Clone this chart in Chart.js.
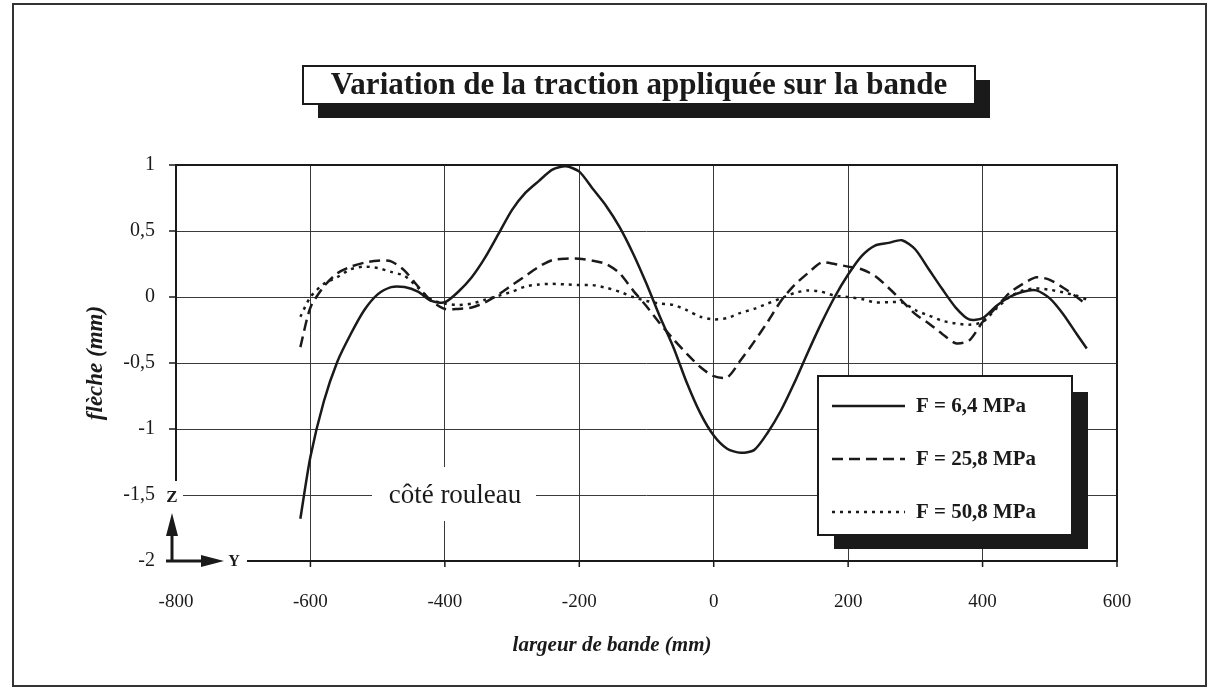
<!DOCTYPE html>
<html lang="fr">
<head>
<meta charset="utf-8">
<title>Variation de la traction appliquée sur la bande</title>
<script src="https://cdn.jsdelivr.net/npm/chart.js@4.4.1/dist/chart.umd.min.js"></script>
<style>
    html, body { margin: 0; padding: 0; background: #fff; }
    #wrap { width: 1209px; height: 689px; }
</style>
</head>
<body>
<div id="wrap"><canvas id="flecheChart" width="1209" height="689"></canvas></div>
<script>
/* ---------- données (mm) ---------- */
const positions = [
    -615, -600, -580, -560, -540, -520, -500, -480, -460, -440, -420, -400,
    -380, -360, -340, -320, -300, -280, -260, -240, -220, -200, -180, -160,
    -140, -120, -100, -80, -60, -40, -20, 0, 20, 40, 60, 80, 100, 120, 140,
    160, 180, 200, 220, 240, 260, 280, 300, 320, 340, 360, 380, 400, 420,
    440, 460, 480, 500, 520, 540, 555
];

const fleche64 = [
    -1.68, -1.21, -0.79, -0.49, -0.28, -0.10, 0.02, 0.075, 0.075, 0.04, -0.03, -0.04,
    0.04, 0.15, 0.30, 0.48, 0.66, 0.79, 0.88, 0.965, 0.99, 0.95, 0.82, 0.69,
    0.53, 0.33, 0.10, -0.15, -0.38, -0.65, -0.88, -1.05, -1.15, -1.18, -1.16, -1.03, -0.86, -0.65, -0.42,
    -0.20, 0.0, 0.17, 0.31, 0.39, 0.41, 0.43, 0.36, 0.21, 0.06, -0.08, -0.17, -0.16, -0.07,
    0.0, 0.04, 0.05, -0.01, -0.13, -0.28, -0.39
];

const fleche258 = [
    -0.38, -0.08, 0.08, 0.18, 0.23, 0.26, 0.275, 0.27, 0.20, 0.08, -0.03, -0.09,
    -0.09, -0.08, -0.04, 0.02, 0.09, 0.16, 0.23, 0.28, 0.29, 0.29, 0.275, 0.25,
    0.18, 0.05, -0.07, -0.20, -0.32, -0.43, -0.53, -0.60, -0.61, -0.48, -0.34, -0.19, -0.03, 0.09, 0.18,
    0.26, 0.25, 0.23, 0.21, 0.16, 0.07, -0.03, -0.13, -0.20, -0.28, -0.35, -0.33, -0.19, -0.08,
    0.03, 0.10, 0.15, 0.13, 0.07, 0.0, -0.06
];

const fleche508 = [
    -0.15, 0.0, 0.10, 0.15, 0.21, 0.23, 0.22, 0.19, 0.16, 0.07, -0.02, -0.05,
    -0.06, -0.05, -0.02, 0.01, 0.04, 0.08, 0.095, 0.10, 0.095, 0.09, 0.09, 0.07,
    0.04, 0.0, -0.03, -0.05, -0.06, -0.10, -0.15, -0.17, -0.16, -0.12, -0.09, -0.05, -0.01, 0.03, 0.05,
    0.04, 0.01, 0.0, -0.015, -0.04, -0.04, -0.04, -0.10, -0.14, -0.18, -0.20, -0.21, -0.19, -0.09,
    0.0, 0.05, 0.065, 0.055, 0.035, 0.01, -0.02
];

const seriesLabels = ["F = 6,4 MPa", "F = 25,8 MPa", "F = 50,8 MPa"];
const xTicks = [-800, -600, -400, -200, 0, 200, 400, 600];
const yTicks = [1, 0.5, 0, -0.5, -1, -1.5, -2];

const chartTitle = "Variation de la traction appliquée sur la bande";
const xTitle = "largeur de bande (mm)";
const yTitle = "flèche (mm)";
const sideNote = "côté rouleau";

/* ---------- styles ---------- */
const INK = "#1a1a1a";
const GRID = "#3a3a3a";
const SERIF = "'Liberation Serif', 'DejaVu Serif', serif";
const dashes = [[], [11, 6], [3, 5]];

function points(values) {
    return positions.map((x, i) => ({ x, y: values[i] }));
}

function formatComma(v) {
    return String(v).replace(".", ",");
}

/* cadres, annotations, légende et titre dessinés sur le canvas */
const decorPlugin = {
    id: "decor",
    afterDraw(chart) {
        const ctx = chart.ctx;
        const area = chart.chartArea;
        const xs = chart.scales.x;
        const ys = chart.scales.y;
        const y15 = ys.getPixelForValue(-1.5);
        const y2 = ys.getPixelForValue(-2);

        ctx.save();
        ctx.strokeStyle = INK;
        ctx.fillStyle = INK;

        // cadre de la zone de tracé
        ctx.lineWidth = 2;
        ctx.beginPath();
        ctx.moveTo(area.left, y15 - 14);
        ctx.lineTo(area.left, area.top);
        ctx.lineTo(area.right, area.top);
        ctx.lineTo(area.right, area.bottom);
        ctx.lineTo(247, area.bottom);
        ctx.stroke();

        // graduations
        ctx.lineWidth = 1.5;
        ctx.beginPath();
        yTicks.forEach(v => {
            if (v === -1.5 || v === -2) return;
            const py = ys.getPixelForValue(v);
            ctx.moveTo(area.left - 7, py);
            ctx.lineTo(area.left, py);
        });
        xTicks.forEach(v => {
            if (v === -800) return;
            const px = xs.getPixelForValue(v);
            ctx.moveTo(px, area.bottom);
            ctx.lineTo(px, area.bottom + 6);
        });
        ctx.stroke();

        // repère Z / Y
        ctx.fillStyle = "#fff";
        ctx.fillRect(area.left - 10, y15 - 10, 17, 20);
        ctx.fillStyle = INK;
        ctx.font = `bold 17px ${SERIF}`;
        ctx.textAlign = "center";
        ctx.textBaseline = "middle";
        ctx.fillText("Z", area.left - 4, y15 + 3);
        ctx.font = `bold 16px ${SERIF}`;
        ctx.fillText("Y", 234, y2 + 1);

        const ax = area.left - 4;
        ctx.lineWidth = 3;
        ctx.beginPath();
        ctx.moveTo(ax, y2 + 1.5);
        ctx.lineTo(ax, y2 - 30);
        ctx.moveTo(ax - 6, y2);
        ctx.lineTo(area.left + 30, y2);
        ctx.stroke();
        ctx.beginPath();
        ctx.moveTo(ax, y2 - 48);
        ctx.lineTo(ax - 6, y2 - 25);
        ctx.lineTo(ax + 6, y2 - 25);
        ctx.closePath();
        ctx.moveTo(area.left + 48, y2);
        ctx.lineTo(area.left + 25, y2 - 6);
        ctx.lineTo(area.left + 25, y2 + 6);
        ctx.closePath();
        ctx.fill();

        // note "côté rouleau"
        ctx.fillStyle = "#fff";
        ctx.fillRect(372, y15 - 28, 164, 54);
        ctx.fillStyle = INK;
        ctx.font = `27px ${SERIF}`;
        ctx.fillText(sideNote, 455, y15 + 1, 154);

        // titres des axes
        ctx.font = `bold italic 21px ${SERIF}`;
        ctx.fillText(xTitle, 612, 646);
        ctx.save();
        ctx.translate(96, (area.top + area.bottom) / 2);
        ctx.rotate(-Math.PI / 2);
        ctx.font = `bold italic 23px ${SERIF}`;
        ctx.fillText(yTitle, 0, 0);
        ctx.restore();

        // titre encadré avec ombre
        ctx.fillStyle = INK;
        ctx.fillRect(318, 80, 672, 38);
        ctx.fillStyle = "#fff";
        ctx.fillRect(303, 66, 672, 38);
        ctx.lineWidth = 2;
        ctx.strokeRect(303, 66, 672, 38);
        ctx.fillStyle = INK;
        ctx.font = `bold 31px ${SERIF}`;
        ctx.fillText(chartTitle, 639, 86, 624);

        // légende encadrée avec ombre
        ctx.fillRect(834, 392, 254, 157);
        ctx.fillStyle = "#fff";
        ctx.fillRect(818, 376, 254, 159);
        ctx.strokeRect(818, 376, 254, 159);
        ctx.textAlign = "left";
        ctx.font = `bold 21px ${SERIF}`;
        chart.data.datasets.forEach((ds, i) => {
            const ly = 406 + i * 53;
            ctx.setLineDash(ds.borderDash || []);
            ctx.lineWidth = 2.5;
            ctx.beginPath();
            ctx.moveTo(832, ly);
            ctx.lineTo(905, ly);
            ctx.stroke();
            ctx.setLineDash([]);
            ctx.fillStyle = INK;
            ctx.fillText(ds.label, 916, ly + 1, 120);
        });

        // bordure extérieure
        ctx.lineWidth = 2;
        ctx.strokeStyle = "#333";
        ctx.strokeRect(13, 4, 1193, 682);
        ctx.restore();
    }
};

const flecheChart = new Chart(document.getElementById("flecheChart").getContext("2d"), {
    type: "line",
    data: {
        datasets: [fleche64, fleche258, fleche508].map((values, i) => ({
            label: seriesLabels[i],
            data: points(values),
            borderColor: INK,
            borderWidth: 2.5,
            borderDash: dashes[i],
            tension: 0.25,
            pointRadius: 0,
            fill: false
        }))
    },
    options: {
        responsive: false,
        animation: false,
        devicePixelRatio: 1,
        layout: {
            padding: { top: 165, right: 92, bottom: 48, left: 76 }
        },
        plugins: {
            legend: { display: false },
            tooltip: { enabled: false }
        },
        scales: {
            x: {
                type: "linear",
                min: -800,
                max: 600,
                afterFit(scale) { scale.height = 80; },
                afterBuildTicks(scale) { scale.ticks = xTicks.map(value => ({ value })); },
                border: { display: false },
                grid: {
                    drawTicks: false,
                    lineWidth: 1,
                    color: ctx => (ctx.tick && (ctx.tick.value === -800 || ctx.tick.value === 600)) ? "rgba(0,0,0,0)" : GRID
                },
                ticks: {
                    padding: 30,
                    color: INK,
                    font: { family: SERIF, size: 19 },
                    callback: value => formatComma(value)
                }
            },
            y: {
                min: -2,
                max: 1,
                afterFit(scale) { scale.width = 100; },
                afterBuildTicks(scale) { scale.ticks = yTicks.map(value => ({ value })); },
                border: { display: false },
                grid: {
                    drawTicks: false,
                    lineWidth: 1,
                    color: ctx => (ctx.tick && (ctx.tick.value === 1 || ctx.tick.value === -2)) ? "rgba(0,0,0,0)" : GRID
                },
                ticks: {
                    padding: 21,
                    color: INK,
                    font: { family: SERIF, size: 20 },
                    callback: value => formatComma(value)
                }
            }
        }
    },
    plugins: [decorPlugin]
});
</script>
</body>
</html>
